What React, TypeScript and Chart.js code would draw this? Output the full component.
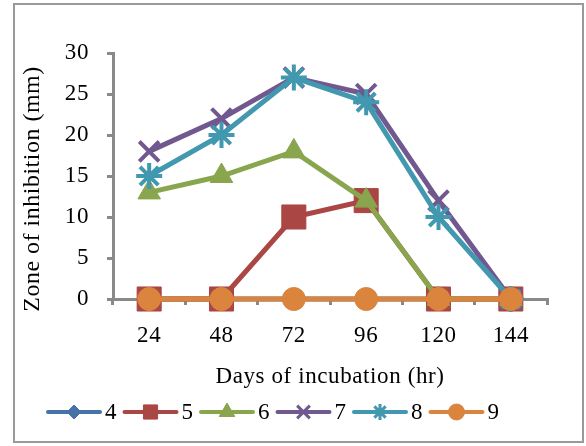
import React, { useEffect, useRef } from 'react';
import { Chart, registerables } from 'chart.js';
import { drawPoint } from 'chart.js/helpers';

Chart.register(...registerables);

const categories = ['24', '48', '72', '96', '120', '144'];
const seriesNames = ['4', '5', '6', '7', '8', '9'];
const s4 = [0, 0, 0, 0, 0, 0];
const s5 = [0, 0, 10, 12, 0, 0];
const s6 = [13, 15, 18, 12, 0, 0];
const s7 = [18, 22, 27, 25, 12, 0];
const s8 = [15, 20, 27, 24, 10, 0];
const s9 = [0, 0, 0, 0, 0, 0];
const yMin = 0;
const yMax = 30;
const yStep = 5;
const xTitle = 'Days of incubation (hr)';
const yTitle = 'Zone of inhibition (mm)';

const seriesValues = [s4, s5, s6, s7, s8, s9];
const colors = ['#4572A7', '#AA4643', '#89A54E', '#71588F', '#4198AF', '#DB843D'];
const markers = [
  { style: 'rectRot', r: 9, lr: 7, bw: 1, lw: 5 },
  { style: 'rect', r: 17, lr: 10, bw: 1, lw: 5 },
  { style: 'triangle', r: 13, lr: 9, bw: 1, lw: 5 },
  { style: 'crossRot', r: 14, lr: 9, bw: 4, lw: 5 },
  { style: 'star', r: 13, lr: 8, bw: 4, lw: 5 },
  { style: 'circle', r: 11.5, lr: 8, bw: 1, lw: 5 },
];

const FONT = '"Liberation Serif", "Times New Roman", serif';
const GRAY = '#898989';
const SPACING = '0.6px';

const framePlugin = {
  id: 'frame',
  beforeDraw(chart: any) {
    const ctx = chart.ctx;
    ctx.save();
    ctx.fillStyle = '#ffffff';
    ctx.fillRect(0, 0, chart.width, chart.height);
    ctx.strokeStyle = '#9a9a9a';
    ctx.lineWidth = 2;
    ctx.strokeRect(14, 4, 569, 438);
    ctx.restore();
    (ctx as any).letterSpacing = SPACING;
  },
  afterDraw(chart: any) {
    const ctx = chart.ctx;
    ctx.save();
    (ctx as any).letterSpacing = '0.5px';
    ctx.fillStyle = '#000';
    ctx.font = `24px ${FONT}`;
    ctx.textAlign = 'center';
    ctx.textBaseline = 'middle';
    ctx.translate(33, 189);
    ctx.rotate(-Math.PI / 2);
    ctx.fillText(yTitle, 0, 0);
    ctx.restore();

    ctx.save();
    (ctx as any).letterSpacing = '0px';
    ctx.font = `23px ${FONT}`;
    ctx.textBaseline = 'middle';
    ctx.textAlign = 'left';
    let x = 48;
    const y = 412;
    seriesNames.forEach((name, i) => {
      const c = colors[i];
      const m = markers[i];
      ctx.strokeStyle = c;
      ctx.fillStyle = c;
      ctx.lineWidth = 4;
      ctx.lineCap = 'round';
      ctx.beginPath();
      ctx.moveTo(x, y);
      ctx.lineTo(x + 52, y);
      ctx.stroke();
      ctx.lineCap = 'butt';
      ctx.lineWidth = m.bw === 1 ? 1 : 3;
      drawPoint(ctx, { pointStyle: m.style, radius: m.lr, rotation: 0, borderWidth: ctx.lineWidth } as any, x + 26, y);
      ctx.fillStyle = '#000';
      ctx.fillText(name, x + 57, y + 1);
      const w = ctx.measureText(name).width;
      x += 57 + w + 8;
    });
    ctx.restore();
  },
};

export default function App() {
  const ref = useRef<HTMLCanvasElement | null>(null);
  useEffect(() => {
    if (!ref.current) return;
    Chart.defaults.font.family = FONT;
    Chart.defaults.color = '#000';
    const chart = new Chart(ref.current, {
      type: 'line',
      data: {
        labels: categories,
        datasets: seriesNames.map((name, i) => ({
          label: name,
          data: seriesValues[i],
          borderColor: colors[i],
          backgroundColor: colors[i],
          borderWidth: markers[i].lw,
          pointStyle: markers[i].style as any,
          pointRadius: markers[i].r,
          pointBorderWidth: markers[i].bw,
          pointBorderColor: colors[i],
          pointBackgroundColor: colors[i],
          tension: 0,
          clip: false as any,
          order: seriesNames.length - 1 - i,
        })),
      },
      options: {
        animation: false,
        responsive: false,
        events: [],
        layout: { padding: { left: 0, right: 39, top: 53, bottom: 0 } },
        plugins: {
          legend: { display: false },
          tooltip: { enabled: false },
        },
        scales: {
          x: {
            offset: true,
            grid: {
              offset: true,
              drawOnChartArea: false,
              drawTicks: true,
              tickLength: 6,
              tickColor: GRAY,
              lineWidth: 3,
              color: GRAY,
            },
            border: { color: GRAY, width: 3 },
            ticks: { font: { size: 23, family: FONT }, padding: 17, color: '#000' },
            title: {
              display: true,
              text: xTitle,
              font: { size: 23, family: FONT },
              color: '#000',
              padding: { top: 0, bottom: 55 },
            },
            afterFit(scale: any) {
              scale.height = 147;
            },
          },
          y: {
            min: yMin,
            max: yMax,
            grid: {
              drawOnChartArea: false,
              drawTicks: true,
              tickLength: 6,
              tickColor: GRAY,
              lineWidth: 3,
              color: GRAY,
            },
            border: { color: GRAY, width: 3 },
            ticks: { stepSize: yStep, font: { size: 23, family: FONT }, padding: 18, color: '#000' },
            afterFit(scale: any) {
              scale.width = 113;
            },
          },
        },
      },
      plugins: [framePlugin],
    });
    return () => chart.destroy();
  }, []);
  return (
    <div style={{ position: 'absolute', left: 0, top: 0, width: 586, height: 446 }}>
      <canvas ref={ref} width={586} height={446} />
    </div>
  );
}
